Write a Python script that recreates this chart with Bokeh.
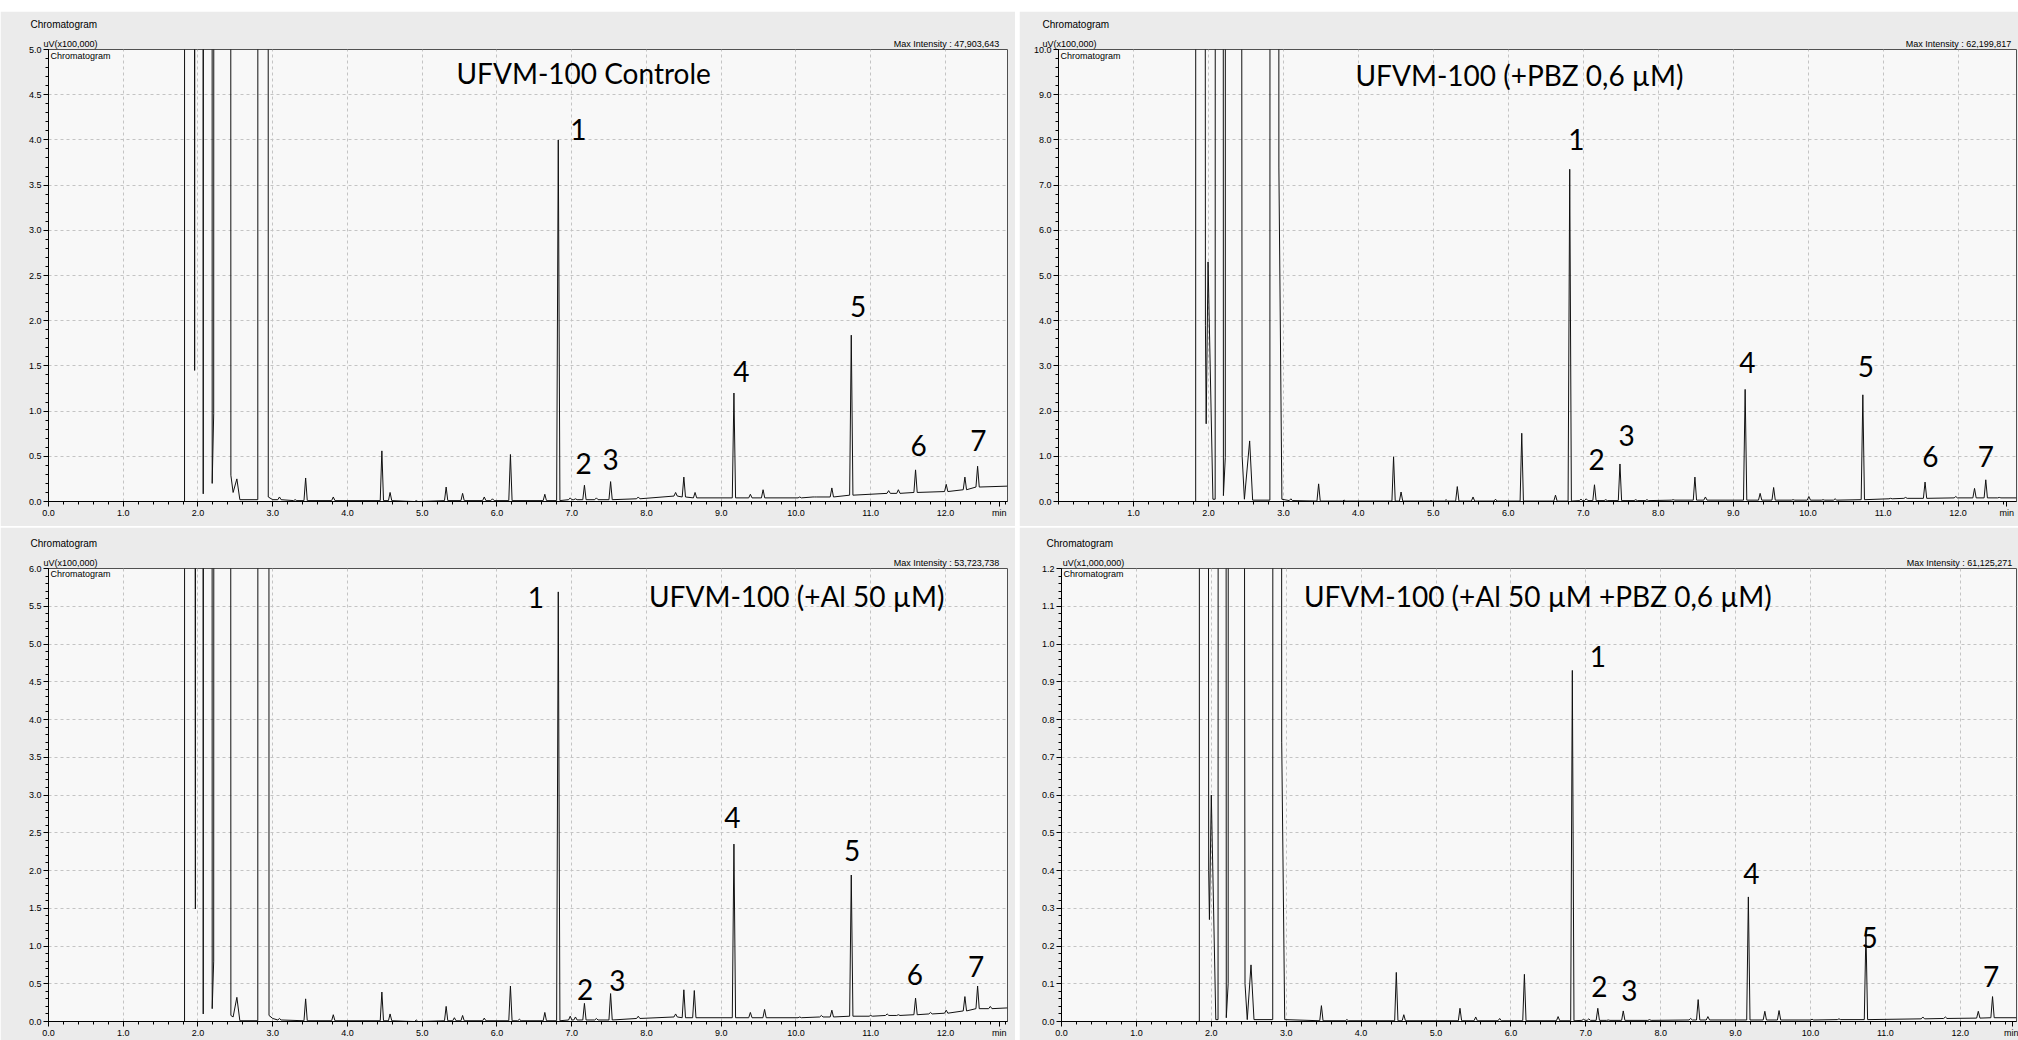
import numpy as np
from bokeh.plotting import figure
from bokeh.models import Label, FixedTicker, PrintfTickFormatter, Range1d, Spacer, LinearAxis, AllLabels
from bokeh.layouts import column, row
from bokeh.embed import file_html
from bokeh.resources import INLINE

# ---------------- DATA ----------------
# Panel A: UFVM-100 Controle  (uV x100,000)
ctrl_solv_t = [0.0, 1.82, 1.85, 1.93, 1.955, 1.99, 2.04, 2.07, 2.10, 2.16, 2.19, 2.21, 2.23, 2.36, 2.44, 2.47, 2.52, 2.56, 2.80, 2.83, 2.90, 2.94, 3.00]
ctrl_solv_y = [0.0, 0.0, 479.0, 60.0, 1.45, 90.0, 150.0, 0.085, 120.0, 200.0, 0.20, 0.97, 80.0, 300.0, 0.29, 0.10, 0.25, 0.02, 0.02, 250.0, 400.0, 0.05, 0.02]
ctrl_rt = [3.09, 3.30, 3.44, 3.81, 4.46, 4.57, 4.92, 5.32, 5.54, 5.83, 5.94, 6.18, 6.64, 6.82, 6.98, 7.05, 7.17, 7.33, 7.52, 7.89, 8.39, 8.50, 8.65, 9.17, 9.39, 9.56, 10.05, 10.25, 10.48, 10.74, 11.24, 11.37, 11.60, 12.01, 12.26, 12.43]
ctrl_h = [0.05, 0.02, 0.26, 0.05, 0.56, 0.10, 0.01, 0.16, 0.09, 0.05, 0.03, 0.52, 0.08, 4.00, 0.04, 0.03, 0.18, 0.04, 0.22, 0.05, 0.10, 0.27, 0.10, 1.20, 0.08, 0.13, 0.05, 0.05, 0.15, 1.84, 0.12, 0.13, 0.35, 0.19, 0.27, 0.39]
ctrl_base = [0.02, 0.01, 0.01, 0.01, 0.01, 0.01, 0.00, 0.01, 0.01, 0.01, 0.01, 0.01, 0.01, 0.01, 0.02, 0.02, 0.02, 0.02, 0.02, 0.03, 0.06, 0.05, 0.04, 0.04, 0.04, 0.04, 0.04, 0.05, 0.05, 0.07, 0.09, 0.09, 0.10, 0.11, 0.13, 0.16]
ctrl_end = (12.83, 0.17)

# Panel B: UFVM-100 (+PBZ 0,6 µM)  (uV x100,000)
pbz_solv_t = [0.0, 1.83, 1.86, 1.95, 1.96, 1.97, 1.995, 2.06, 2.09, 2.13, 2.20, 2.225, 2.24, 2.28, 2.45, 2.48, 2.55, 2.59, 2.82, 2.86, 2.94, 2.98]
pbz_solv_y = [0.0, 0.0, 622.0, 40.0, 3.9, 1.72, 5.3, 0.05, 0.05, 400.0, 0.13, 0.97, 200.0, 300.0, 1.0, 0.05, 1.34, 0.03, 0.03, 400.0, 7.4, 0.05]
pbz_rt = [3.10, 3.47, 3.81, 4.47, 4.57, 4.97, 5.17, 5.32, 5.53, 5.83, 6.18, 6.63, 6.82, 6.97, 7.04, 7.15, 7.30, 7.49, 7.70, 7.85, 8.20, 8.49, 8.63, 9.16, 9.36, 9.54, 9.80, 10.01, 10.20, 10.36, 10.73, 11.10, 11.30, 11.56, 11.97, 12.22, 12.37, 12.55]
pbz_h = [0.06, 0.39, 0.03, 0.99, 0.21, 0.02, 0.04, 0.33, 0.10, 0.05, 1.51, 0.14, 7.35, 0.05, 0.06, 0.37, 0.04, 0.83, 0.04, 0.04, 0.04, 0.54, 0.10, 2.48, 0.18, 0.31, 0.04, 0.11, 0.04, 0.06, 2.36, 0.07, 0.09, 0.43, 0.11, 0.29, 0.48, 0.09]
pbz_base = [0.02, 0.01, 0.01, 0.01, 0.01, 0.01, 0.01, 0.01, 0.01, 0.01, 0.01, 0.01, 0.01, 0.02, 0.02, 0.02, 0.02, 0.02, 0.02, 0.02, 0.03, 0.03, 0.03, 0.03, 0.03, 0.03, 0.03, 0.03, 0.03, 0.03, 0.04, 0.06, 0.07, 0.07, 0.08, 0.08, 0.08, 0.08]
pbz_end = (12.78, 0.08)

# Panel C: UFVM-100 (+Al 50 µM)  (uV x100,000)
al_solv_t = [0.0, 1.82, 1.85, 1.93, 1.965, 1.99, 2.04, 2.07, 2.10, 2.16, 2.19, 2.21, 2.23, 2.36, 2.44, 2.47, 2.52, 2.56, 2.80, 2.83, 2.90, 2.95, 3.00]
al_solv_y = [0.0, 0.0, 537.0, 60.0, 1.49, 90.0, 150.0, 0.10, 120.0, 200.0, 0.17, 0.80, 80.0, 300.0, 0.08, 0.06, 0.32, 0.01, 0.01, 250.0, 400.0, 0.08, 0.04]
al_rt = [3.09, 3.44, 3.81, 4.46, 4.57, 4.92, 5.32, 5.43, 5.54, 5.83, 6.18, 6.30, 6.64, 6.82, 6.98, 7.05, 7.17, 7.33, 7.52, 7.89, 8.39, 8.50, 8.64, 9.17, 9.39, 9.58, 10.05, 10.34, 10.48, 10.74, 11.00, 11.22, 11.37, 11.60, 11.80, 12.01, 12.26, 12.43, 12.60]
al_h = [0.04, 0.30, 0.09, 0.39, 0.10, 0.02, 0.20, 0.05, 0.08, 0.045, 0.47, 0.03, 0.12, 5.69, 0.07, 0.06, 0.24, 0.04, 0.37, 0.07, 0.10, 0.42, 0.41, 2.35, 0.12, 0.16, 0.06, 0.08, 0.15, 1.94, 0.08, 0.10, 0.09, 0.31, 0.12, 0.15, 0.33, 0.47, 0.20]
al_base = [0.02, 0.01, 0.01, 0.01, 0.01, 0.00, 0.01, 0.01, 0.01, 0.01, 0.01, 0.01, 0.01, 0.01, 0.02, 0.02, 0.02, 0.02, 0.02, 0.04, 0.06, 0.05, 0.05, 0.05, 0.05, 0.05, 0.05, 0.06, 0.06, 0.07, 0.07, 0.08, 0.08, 0.09, 0.10, 0.11, 0.14, 0.17, 0.17]
al_end = (12.83, 0.18)

# Panel D: UFVM-100 (+Al 50 µM +PBZ 0,6 µM)  (uV x1,000,000)
alpbz_solv_t = [0.0, 1.84, 1.87, 1.955, 1.965, 1.975, 2.00, 2.06, 2.09, 2.13, 2.20, 2.225, 2.24, 2.28, 2.45, 2.48, 2.53, 2.57, 2.82, 2.86, 2.94, 2.98]
alpbz_solv_y = [0.0, 0.0, 61.1, 4.0, 0.40, 0.27, 0.60, 0.005, 0.005, 40.0, 0.01, 0.10, 20.0, 30.0, 0.10, 0.005, 0.15, 0.005, 0.005, 40.0, 0.74, 0.005]
alpbz_rt = [3.47, 3.81, 4.47, 4.57, 5.32, 5.53, 5.85, 6.18, 6.63, 6.82, 6.97, 7.04, 7.16, 7.30, 7.50, 7.85, 8.40, 8.50, 8.63, 9.17, 9.39, 9.58, 10.02, 10.38, 10.74, 11.50, 11.80, 12.24, 12.43]
alpbz_h = [0.042, 0.005, 0.13, 0.018, 0.035, 0.012, 0.008, 0.125, 0.013, 0.93, 0.006, 0.007, 0.035, 0.004, 0.028, 0.005, 0.008, 0.058, 0.013, 0.33, 0.027, 0.029, 0.006, 0.007, 0.24, 0.012, 0.012, 0.027, 0.066]
alpbz_base = [0.002, 0.002, 0.002, 0.002, 0.002, 0.002, 0.002, 0.002, 0.002, 0.002, 0.003, 0.003, 0.003, 0.003, 0.003, 0.003, 0.004, 0.004, 0.004, 0.004, 0.004, 0.004, 0.004, 0.005, 0.005, 0.007, 0.008, 0.009, 0.010]
alpbz_end = (12.75, 0.01)

titles = ["UFVM-100 Controle", "UFVM-100 (+PBZ 0,6 µM)", "UFVM-100 (+Al 50 µM)", "UFVM-100 (+Al 50 µM +PBZ 0,6 µM)"]
unit_labels = ["uV(x100,000)", "uV(x100,000)", "uV(x100,000)", "uV(x1,000,000)"]
max_intensity = ["47,903,643", "62,199,817", "53,723,738", "61,125,271"]
peak_numbers = ["1", "2", "3", "4", "5", "6", "7"]

# ---------------- LAYOUT / STYLE ----------------
SMALL = "Liberation Sans"
BIG = "Lato"
PEAK_HW = 0.022  # half base width of a drawn peak (min) - drawing style

# annotation positions (data coords)
title_pos = [(7.16, 4.74), (6.15, 9.43), (10.01, 5.64), (6.36, 1.128)]
num_pos = [
    [(7.09, 4.12), (7.16, 0.42), (7.52, 0.46), (9.27, 1.44), (10.83, 2.16), (11.64, 0.62), (12.44, 0.67)],
    [(6.91, 8.0), (7.18, 0.94), (7.58, 1.45), (9.19, 3.08), (10.77, 2.99), (11.63, 1.0), (12.37, 1.0)],
    [(6.52, 5.62), (7.18, 0.43), (7.61, 0.54), (9.15, 2.70), (10.75, 2.27), (11.59, 0.62), (12.41, 0.73)],
    [(7.16, 0.968), (7.18, 0.092), (7.58, 0.082), (9.21, 0.392), (10.79, 0.222), None, (12.41, 0.119)],
]

# pixel geometry of each panel; uv_c / mi_c = centre (px from frame left) of the header texts
specs = [
    dict(w=1015, h=515, L=48, R=8, T=38, B=25, x_end=12.83, y_top=5.0, step=0.5, zero=True, min_x=12.72,
         hdr_x=-18, uv_c=22, mi_c=898),
    dict(w=999, h=515, L=39, R=2, T=38, B=25, x_end=12.78, y_top=10.0, step=1.0, zero=False, min_x=12.65,
         hdr_x=-16, uv_c=11, mi_c=900),
    dict(w=1015, h=513, L=48, R=8, T=41, B=18, x_end=12.83, y_top=6.0, step=0.5, zero=True, min_x=12.72,
         hdr_x=-18, uv_c=22, mi_c=898),
    dict(w=999, h=513, L=42, R=2, T=36, B=18, x_end=12.75, y_top=1.2, step=0.1, zero=True, min_x=12.69,
         hdr_x=-15, uv_c=32, mi_c=898),
]

traces = [
    (ctrl_solv_t, ctrl_solv_y, ctrl_rt, ctrl_h, ctrl_base, ctrl_end),
    (pbz_solv_t, pbz_solv_y, pbz_rt, pbz_h, pbz_base, pbz_end),
    (al_solv_t, al_solv_y, al_rt, al_h, al_base, al_end),
    (alpbz_solv_t, alpbz_solv_y, alpbz_rt, alpbz_h, alpbz_base, alpbz_end),
]


def build_trace(st, sy, rt, h, base, end):
    t = list(st)
    y = list(sy)
    for r, hh, b in zip(rt, h, base):
        t += [r - PEAK_HW, r, r + PEAK_HW]
        y += [b, hh, b]
    t.append(end[0])
    y.append(end[1])
    return t, y


def style_axis(ax):
    ax.axis_line_color = "#000000"
    ax.major_tick_line_color = "#000000"
    ax.minor_tick_line_color = "#000000"
    ax.major_tick_in = 0
    ax.major_tick_out = 5
    ax.minor_tick_in = 0
    ax.minor_tick_out = 3
    ax.major_label_text_font = SMALL
    ax.major_label_text_font_size = "9px"
    ax.major_label_text_color = "#000000"
    ax.major_label_standoff = 2


def make_panel(i):
    s = specs[i]
    fw = s["w"] - s["L"] - s["R"]
    fh = s["h"] - s["T"] - s["B"]
    x_end, y_top, step = s["x_end"], s["y_top"], s["step"]

    p = figure(width=s["w"], height=s["h"], x_range=Range1d(0, x_end), y_range=Range1d(0, y_top),
               output_backend="svg", toolbar_location=None, title="Chromatogram",
               min_border_left=s["L"], min_border_right=s["R"], min_border_top=s["T"], min_border_bottom=s["B"])
    p.background_fill_color = "#f8f8f8"
    p.border_fill_color = "#ebebeb"
    p.outline_line_color = "#505050"
    p.outline_line_width = 1

    # window header text
    p.title.align = "left"
    p.title.offset = s["hdr_x"]
    p.title.text_font = SMALL
    p.title.text_font_size = "10px"
    p.title.text_font_style = "normal"
    p.title.text_color = "#000000"
    p.title.standoff = 11

    xt = [float(k) for k in range(0 if s["zero"] else 1, 13)] + [s["min_x"]]
    xminor = [round(k * 0.2, 2) for k in range(0, 65) if k * 0.2 <= x_end]
    nmaj = int(round(y_top / step))
    yt = [round(k * step, 3) for k in range(0, nmaj + 1)]
    yminor = [round(k * step / 5, 4) for k in range(0, nmaj * 5 + 1)]

    xa = p.xaxis[0]
    ya = p.yaxis[0]
    xa.ticker = FixedTicker(ticks=xt, minor_ticks=xminor)
    ya.ticker = FixedTicker(ticks=yt, minor_ticks=yminor)
    p.xgrid.ticker = FixedTicker(ticks=[float(k) for k in range(1, 13)])
    p.ygrid.ticker = FixedTicker(ticks=yt[1:])
    for ax in (xa, ya):
        ax.formatter = PrintfTickFormatter(format="%.1f")
        style_axis(ax)
    xa.major_label_standoff = 1
    xa.major_label_overrides = {s["min_x"]: "min"}
    xa.major_label_policy = AllLabels()
    for g in (p.xgrid[0], p.ygrid[0]):
        g.grid_line_color = "#c4c4c4"
        g.grid_line_dash = "3 3"
        g.grid_line_width = 1

    # header row just above the frame: units (left) and max intensity (right)
    t_uv = round(s["uv_c"] * x_end / fw, 4)
    t_mi = round(s["mi_c"] * x_end / fw, 4)
    top_ax = LinearAxis(ticker=FixedTicker(ticks=[t_uv, t_mi], minor_ticks=[]),
                        major_label_overrides={t_uv: unit_labels[i],
                                               t_mi: "Max Intensity : " + max_intensity[i]},
                        major_label_policy=AllLabels())
    top_ax.axis_line_color = None
    top_ax.major_tick_line_color = None
    top_ax.minor_tick_line_color = None
    top_ax.major_tick_out = 0
    top_ax.major_tick_in = 0
    top_ax.minor_tick_out = 0
    top_ax.major_label_text_font = SMALL
    top_ax.major_label_text_font_size = "9px"
    top_ax.major_label_text_color = "#000000"
    top_ax.major_label_standoff = 1
    p.add_layout(top_ax, "above")

    t, y = build_trace(*traces[i])
    p.line(t, y, line_color="#111111", line_width=1)

    def lab(x, yv, text, size, font=SMALL, align="left", base="middle"):
        p.add_layout(Label(x=x, y=yv, text=text, text_font=font, text_font_size=size,
                           text_align=align, text_baseline=base, text_color="#000000"))

    lab(2 * x_end / fw, y_top - 1 * y_top / fh, "Chromatogram", "9px", base="top")

    tx, ty = title_pos[i]
    lab(tx, ty, titles[i], "28px", font=BIG, align="center")
    for k, pos in enumerate(num_pos[i]):
        if pos is None:
            continue
        lab(pos[0], pos[1], peak_numbers[k], "28px", font=BIG, align="center")
    return p


p1, p2, p3, p4 = [make_panel(i) for i in range(4)]
layout = column(Spacer(height=11),
                row(p1, Spacer(width=4), p2),
                Spacer(height=1),
                row(p3, Spacer(width=4), p4))

open("out.html", "w").write(file_html(layout, INLINE))
